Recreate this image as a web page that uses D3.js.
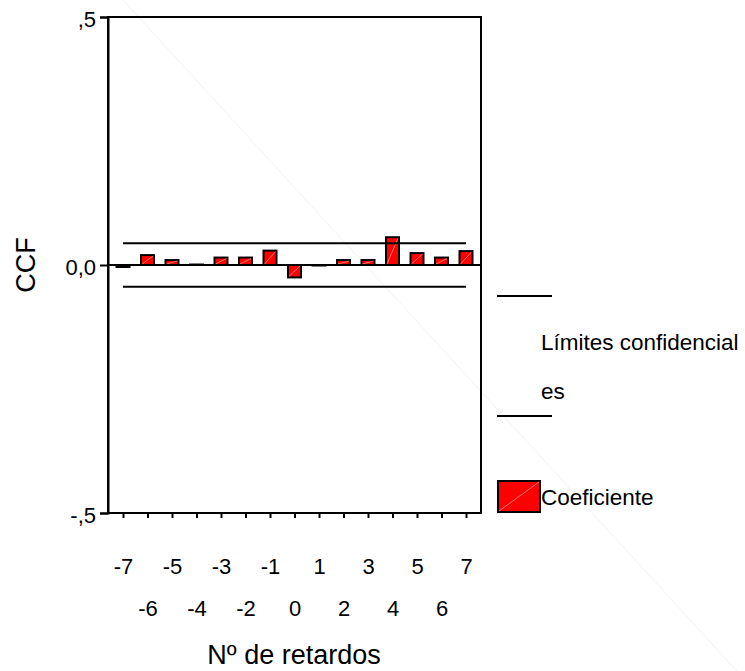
<!DOCTYPE html>
<html>
<head>
<meta charset="utf-8">
<script src="https://cdn.jsdelivr.net/npm/d3@7/dist/d3.min.js"></script>
<style>
  html, body { margin: 0; padding: 0; background: #fff; }
  svg { display: block; font-family: "Liberation Sans", Arial, sans-serif; }
</style>
</head>
<body>
<svg id="chart" width="745" height="671"></svg>
<script>
// ---- data ----
const lags = [-7, -6, -5, -4, -3, -2, -1, 0, 1, 2, 3, 4, 5, 6, 7];
const ccfValues = [-0.004, 0.020, 0.010, 0.001, 0.015, 0.015, 0.029, -0.025, -0.001, 0.010, 0.010, 0.056, 0.024, 0.015, 0.028];
const confidenceLimit = [0.044, -0.044];
const yTickValues = [0.5, 0, -0.5];
const yTickLabels = [",5", "0,0", "-,5"];
const legendLabels = ["Límites confidencial", "es", "Coeficiente"];
const xTitle = "Nº de retardos";
const yTitle = "CCF";

// ---- layout ----
const svg = d3.select("#chart");
const plot = { left: 108, right: 481, top: 17, bottom: 513 };

const x = d3.scaleLinear().domain([d3.min(lags), d3.max(lags)]).range([123, 466]);
const y = d3.scaleLinear().domain([-0.5, 0.5]).range([plot.bottom, plot.top]);

// faint scan artifact line
svg.append("line")
  .attr("x1", 123).attr("y1", 0).attr("x2", 745).attr("y2", 680)
  .attr("stroke", "#f3f3f3").attr("stroke-width", 1);

// frame
svg.append("rect")
  .attr("x", plot.left).attr("y", plot.top)
  .attr("width", plot.right - plot.left).attr("height", plot.bottom - plot.top)
  .attr("fill", "none").attr("stroke", "#000").attr("stroke-width", 2);

// y axis
const yAxis = d3.axisLeft(y)
  .tickValues(yTickValues)
  .tickFormat((d, i) => yTickLabels[i])
  .tickSize(8).tickPadding(4);
const gy = svg.append("g").attr("transform", `translate(${plot.left},0)`).call(yAxis);
gy.select(".domain").attr("stroke", "#000").attr("stroke-width", 2);
gy.selectAll(".tick line").attr("stroke", "#000").attr("stroke-width", 2);
gy.selectAll(".tick text").attr("font-size", 22).attr("fill", "#000")
  .attr("font-family", "Liberation Sans, Arial, sans-serif").attr("dy", "0.42em");

// x axis
const xAxis = d3.axisBottom(x).tickValues(lags).tickFormat(d => String(d)).tickSize(5).tickSizeOuter(0);
const gx = svg.append("g").attr("transform", `translate(0,${plot.bottom})`).call(xAxis);
gx.select(".domain").remove();
gx.selectAll(".tick line").attr("stroke", "#000").attr("stroke-width", 2);
gx.selectAll(".tick text")
  .attr("font-size", 22).attr("fill", "#000")
  .attr("font-family", "Liberation Sans, Arial, sans-serif")
  .attr("dy", null)
  .attr("y", d => (Math.abs(d) % 2 === 1 ? 61 : 103));

// bars
const barW = 13;
const bars = svg.append("g");
lags.forEach((lag, i) => {
  const v = ccfValues[i];
  const y0 = y(Math.max(0, v));
  const y1 = y(Math.min(0, v));
  const cx = x(lag);
  const h = Math.max(0.5, y1 - y0);
  bars.append("rect")
    .attr("x", cx - barW / 2).attr("y", y0)
    .attr("width", barW).attr("height", h)
    .attr("fill", "#ff0000").attr("stroke", "#000").attr("stroke-width", 2);
  if (h > 4) {
    bars.append("line")
      .attr("x1", cx - barW / 2 + 1).attr("y1", y0 + h - 1)
      .attr("x2", cx + barW / 2 - 1).attr("y2", y0 + 1)
      .attr("stroke", "#ff9090").attr("stroke-width", 0.8);
  }
});

// zero line
svg.append("line")
  .attr("x1", plot.left).attr("x2", plot.right)
  .attr("y1", y(0)).attr("y2", y(0))
  .attr("stroke", "#000").attr("stroke-width", 2);

// confidence limits
confidenceLimit.forEach(c => {
  svg.append("line")
    .attr("x1", x(d3.min(lags))).attr("x2", x(d3.max(lags)))
    .attr("y1", y(c)).attr("y2", y(c))
    .attr("stroke", "#000").attr("stroke-width", 2);
});

// legend
const lg = svg.append("g").attr("font-size", 22.5).attr("fill", "#000");
lg.append("line").attr("x1", 497).attr("x2", 552).attr("y1", 296).attr("y2", 296)
  .attr("stroke", "#000").attr("stroke-width", 2);
lg.append("text").attr("x", 541).attr("y", 350).text(legendLabels[0]);
lg.append("text").attr("x", 541).attr("y", 399).text(legendLabels[1]);
lg.append("line").attr("x1", 497).attr("x2", 552).attr("y1", 416).attr("y2", 416)
  .attr("stroke", "#000").attr("stroke-width", 2);
lg.append("rect").attr("x", 498).attr("y", 481).attr("width", 42).attr("height", 31)
  .attr("fill", "#ff0000").attr("stroke", "#000").attr("stroke-width", 2);
lg.append("line").attr("x1", 499).attr("y1", 511).attr("x2", 539).attr("y2", 482)
  .attr("stroke", "#ff9090").attr("stroke-width", 0.8);
lg.append("text").attr("x", 541).attr("y", 505).text(legendLabels[2]);

// titles
svg.append("text")
  .attr("x", 294).attr("y", 664)
  .attr("text-anchor", "middle").attr("font-size", 27).attr("fill", "#000")
  .text(xTitle);
svg.append("text")
  .attr("transform", "translate(35,265) rotate(-90)")
  .attr("text-anchor", "middle").attr("font-size", 27).attr("fill", "#000")
  .text(yTitle);
</script>
</body>
</html>
